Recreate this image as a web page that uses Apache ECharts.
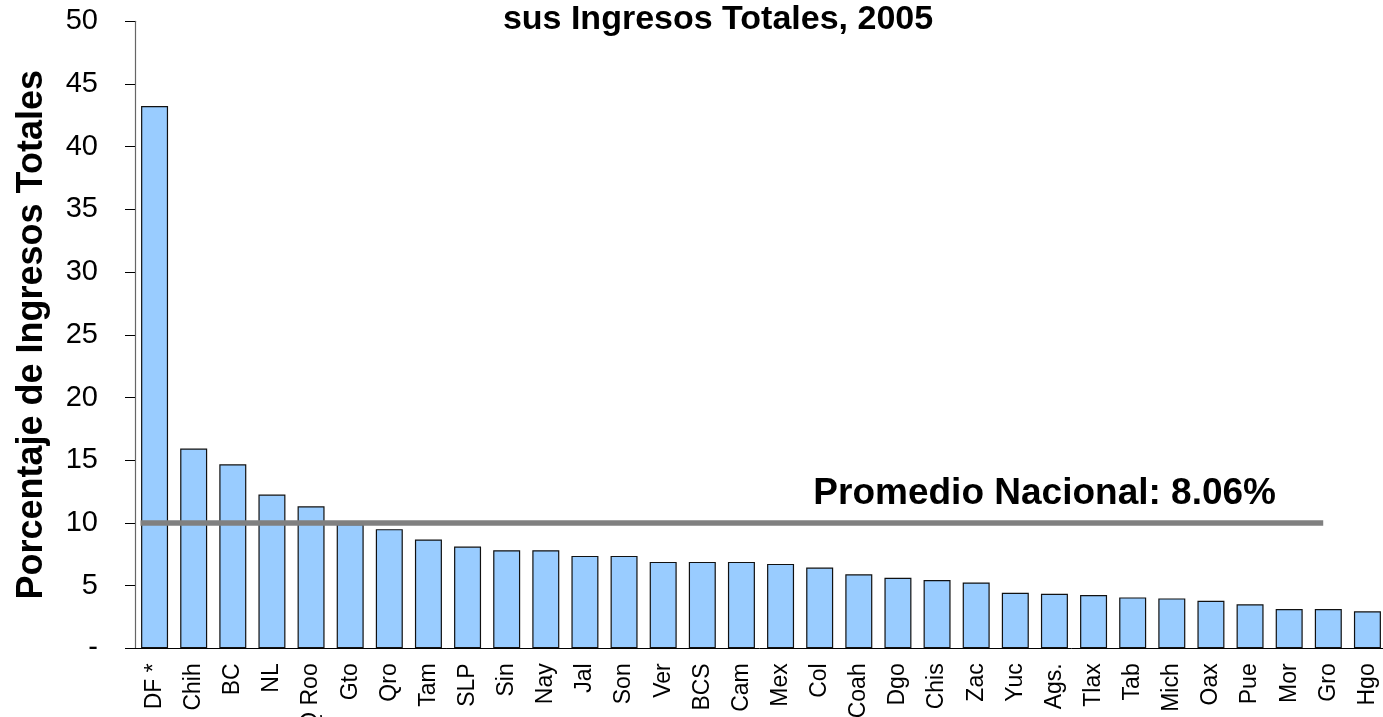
<!DOCTYPE html>
<html>
<head>
<meta charset="utf-8">
<title>Ingresos Totales 2005</title>
<script src="https://cdn.jsdelivr.net/npm/echarts@6/dist/echarts.min.js"></script>
<style>
  html, body { margin: 0; padding: 0; background: #fff; }
  #chart { width: 1383px; height: 717px; }
</style>
</head>
<body>
<div id="chart"></div>
<script>
// estados, ordenados de mayor a menor
const categorias = ['DF *', 'Chih', 'BC', 'NL', 'Q Roo', 'Gto', 'Qro', 'Tam', 'SLP', 'Sin', 'Nay', 'Jal', 'Son', 'Ver', 'BCS', 'Cam',
  'Mex', 'Col', 'Coah', 'Dgo', 'Chis', 'Zac', 'Yuc', 'Ags.', 'Tlax', 'Tab', 'Mich', 'Oax', 'Pue', 'Mor', 'Gro', 'Hgo']
const porcentajes = [43.25, 15.93, 14.67, 12.26, 11.32, 9.9, 9.5, 8.68, 8.11, 7.82, 7.82, 7.37, 7.37, 6.89, 6.89, 6.89,
  6.73, 6.44, 5.9, 5.62, 5.44, 5.25, 4.43, 4.35, 4.25, 4.06, 3.98, 3.79, 3.51, 3.13, 3.13, 2.95]
const ticksY = { min: 0, max: 50, interval: 5 }
// linea del promedio (dibujada a la altura 10, de DF a Gro)
const promedioNivel = 10
const promedioDesde = 0.14
const promedioHasta = 30.37
const promedioTexto = 'Promedio Nacional: 8.06%'

const fuente = '"Liberation Sans", Arial, sans-serif'

const chart = echarts.init(document.getElementById('chart'))
chart.setOption({
  animation: false,
  title: {
    text: 'sus Ingresos Totales, 2005',
    left: 713,
    top: -2,
    textAlign: 'center',
    textStyle: { fontFamily: fuente, fontWeight: 'bold', fontSize: 34, color: '#000' }
  },
  grid: {
    left: 135,
    top: 21.3,
    width: 1252,
    height: 627,
    outerBoundsMode: 'none'
  },
  xAxis: [
    {
      type: 'category',
      data: categorias,
      axisLine: { lineStyle: { color: '#000', width: 1 } },
      axisTick: { length: 7, lineStyle: { color: '#333' } },
      axisLabel: {
        rotate: 90,
        interval: 0,
        margin: 15,
        fontFamily: fuente,
        fontSize: 23,
        color: '#000'
      }
    },
    {
      type: 'value',
      min: 0,
      max: categorias.length,
      show: false
    }
  ],
  yAxis: {
    type: 'value',
    min: ticksY.min,
    max: ticksY.max,
    interval: ticksY.interval,
    name: 'Porcentaje de Ingresos Totales',
    nameLocation: 'middle',
    nameGap: 85,
    nameTextStyle: { fontFamily: fuente, fontWeight: 'bold', fontSize: 36, color: '#000' },
    axisLine: { show: true, lineStyle: { color: '#666', width: 1.2 } },
    axisTick: { show: true, length: 10, lineStyle: { color: '#000' } },
    splitLine: { show: false },
    axisLabel: {
      margin: 37,
      fontFamily: fuente,
      fontSize: 29,
      color: '#000',
      formatter: v => (v === 0 ? '-' : v)
    }
  },
  series: [
    {
      type: 'bar',
      data: porcentajes,
      barCategoryGap: '31%',
      itemStyle: { color: '#99ccff', borderColor: '#111', borderWidth: 1.2 }
    },
    {
      type: 'line',
      xAxisIndex: 1,
      data: [[promedioDesde, promedioNivel], [promedioHasta, promedioNivel]],
      symbol: 'none',
      lineStyle: { color: '#808080', width: 5.5 },
      z: 5
    }
  ],
  graphic: [
    {
      type: 'text',
      right: 1383 - 1276,
      top: 475,
      style: { text: promedioTexto, font: 'bold 37px ' + fuente, fill: '#000' }
    }
  ]
})
</script>
</body>
</html>
